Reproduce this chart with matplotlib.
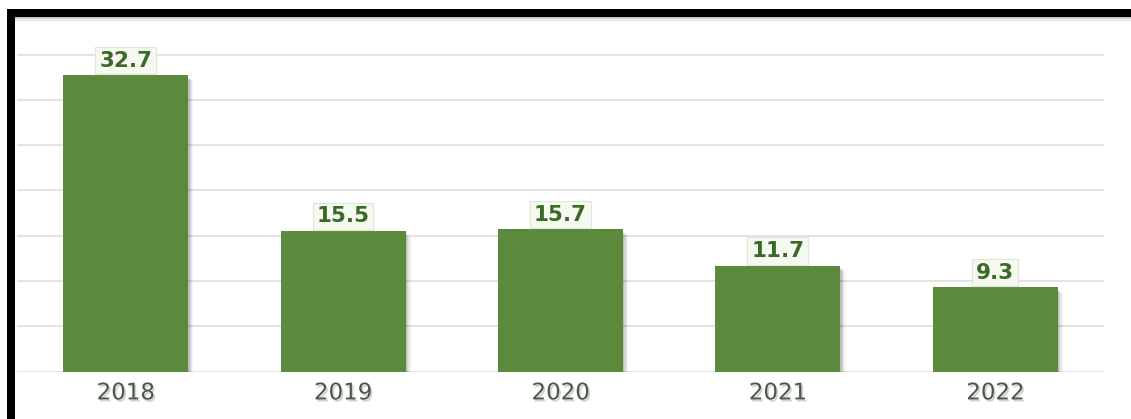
import matplotlib.pyplot as plt
import matplotlib.patheffects as pe
from matplotlib.patches import Rectangle

years = ["2018", "2019", "2020", "2021", "2022"]
values = [32.7, 15.5, 15.7, 11.7, 9.3]

W, H = 1131, 419
fig = plt.figure(figsize=(W / 100, H / 100), dpi=100)
fig.patch.set_facecolor("white")

# axes placed in pixel terms to line up with the reference
ax = fig.add_axes([17 / W, 1 - 371.7 / H, (1104 - 17) / W, (371.7 - 9.3) / H])
ax.set_xlim(-0.5, 4.5)
ax.set_ylim(0, 40)

x = list(range(len(years)))
bar_w = 0.575

# soft drop shadow behind bars
for i, a in enumerate([0.10, 0.08, 0.06, 0.04]):
    dx = 0.006 + 0.004 * i
    dy = 0.25 + 0.12 * i
    ax.bar([v + dx for v in x], values, width=bar_w + 0.004 * i,
           bottom=-dy, color="black", alpha=a, zorder=2, linewidth=0)

ax.bar(x, values, width=bar_w, color="#5b8a3c", zorder=3, linewidth=0)

for xi, v in zip(x, values):
    ax.annotate(f"{v:.1f}", (xi, v), xytext=(0, 3.5), textcoords="offset points",
                ha="center", va="bottom", fontsize=15.5, fontweight="bold",
                color="#3b6a26", zorder=5,
                bbox=dict(boxstyle="square,pad=0.18", facecolor="#f5f9f0",
                          edgecolor="#dfe6d8", linewidth=0.8))

ax.set_yticks(range(0, 40, 5))
ax.set_yticklabels([])
ax.yaxis.grid(True, color="#dedede", linewidth=1.2)
ax.set_axisbelow(True)
ax.tick_params(axis="y", length=0)

ax.set_xticks(x)
ax.set_xticklabels(years, fontsize=16.5, color="#4a5a46")
ax.tick_params(axis="x", length=0, pad=7)
for lbl in ax.get_xticklabels():
    lbl.set_path_effects([pe.SimplePatchShadow(offset=(1.2, -1.5), shadow_rgbFace="gray", alpha=0.35),
                          pe.Normal()])

for s in ax.spines.values():
    s.set_visible(False)

# black frame on top and left, with a faint shadow below the top band
for k, a in enumerate([0.25, 0.15, 0.08, 0.04]):
    fig.add_artist(Rectangle((15 / W, 1 - (18 + k * 1.5) / H), 1, 1.5 / H,
                             transform=fig.transFigure, color="black", alpha=a, lw=0))
fig.add_artist(Rectangle((7 / W, 1 - 17 / H), 1, 8 / H, transform=fig.transFigure,
                         color="black", lw=0, zorder=10))
fig.add_artist(Rectangle((7 / W, 0), 8 / W, 1 - 9 / H, transform=fig.transFigure,
                         color="black", lw=0, zorder=10))

fig.savefig("out.png", dpi=100)
